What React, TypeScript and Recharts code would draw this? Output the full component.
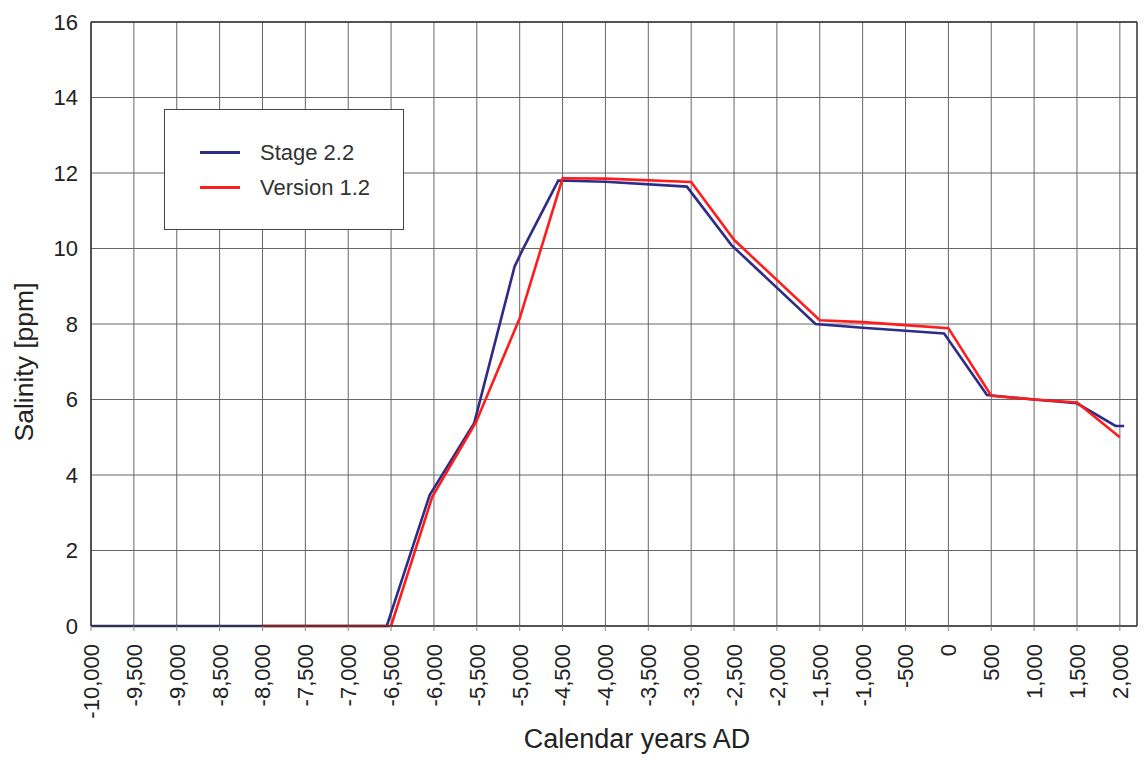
import { CartesianGrid, Legend, Line, LineChart, ReferenceLine, XAxis, YAxis } from "recharts";

// years AD / salinity ppm
const stageYears = [-10000, -6550, -6050, -5530, -5060, -4970, -4550, -4000, -3050, -2530, -1550, -1000, -500, -50, 450, 1000, 1500, 1950, 2050];
const stageSalinity = [0, 0, 3.47, 5.38, 9.52, 9.95, 11.8, 11.77, 11.64, 10.09, 8.0, 7.9, 7.82, 7.75, 6.12, 6.0, 5.9, 5.3, 5.3];

const versionYears = [-8000, -6500, -6020, -5510, -5000, -4500, -4000, -3000, -2500, -1500, -1000, -500, 0, 500, 1000, 1500, 2000];
const versionSalinity = [0, 0, 3.42, 5.4, 8.15, 11.86, 11.85, 11.76, 10.23, 8.1, 8.05, 7.97, 7.89, 6.1, 6.0, 5.92, 5.0];

const xTicks = [-10000, -9500, -9000, -8500, -8000, -7500, -7000, -6500, -6000, -5500, -5000, -4500, -4000, -3500, -3000, -2500, -2000, -1500, -1000, -500, 0, 500, 1000, 1500, 2000];
const yTicks = [0, 2, 4, 6, 8, 10, 12, 14, 16];

const stageData = stageYears.map((x, i) => ({ x, y: stageSalinity[i] }));
const versionData = versionYears.map((x, i) => ({ x, y: versionSalinity[i] }));

const FONT = "'Liberation Sans', Arial, sans-serif";
const BLUE = "#2d2c87";
const RED = "#ff1c1c";

const fmt = (v: number) => (v === 0 ? "0" : v.toLocaleString("en-US"));

const XTick = (props: any) => {
  const { x, y, payload } = props;
  return (
    <text
      transform={`translate(${x},${y + 11}) rotate(-90)`}
      textAnchor="end"
      dy="0.36em"
      fontSize={22}
      fontFamily={FONT}
      fill="#222"
    >
      {fmt(payload.value)}
    </text>
  );
};

const LegendBox = () => (
  <div
    style={{
      width: 240,
      height: 121,
      border: "1.5px solid #444",
      background: "#fff",
      fontFamily: FONT,
      fontSize: 22,
      color: "#333",
      boxSizing: "border-box",
      paddingTop: 25,
    }}
  >
    {[
      { name: "Stage 2.2", color: BLUE },
      { name: "Version 1.2", color: RED },
    ].map((it) => (
      <div key={it.name} style={{ display: "flex", alignItems: "center", height: 35 }}>
        <div style={{ width: 40, height: 3, background: it.color, marginLeft: 35, marginRight: 20 }} />
        <span>{it.name}</span>
      </div>
    ))}
  </div>
);

export default function App() {
  return (
    <div style={{ position: "absolute", left: 0, top: 0, background: "#fff" }}>
      <LineChart width={1144} height={766} margin={{ top: 22, right: 7, left: 0, bottom: 0 }}>
        <CartesianGrid stroke="#666" strokeWidth={1} horizontalValues={yTicks} verticalValues={xTicks} />
        <XAxis
          type="number"
          dataKey="x"
          domain={[-10000, 2200]}
          ticks={xTicks}
          interval={0}
          height={140}
          tick={<XTick />}
          tickSize={5}
          tickLine={{ stroke: "#888" }}
          axisLine={{ stroke: "#333", strokeWidth: 1.5 }}
          allowDataOverflow
          label={{
            content: () => (
              <text x={637} y={748} textAnchor="middle" fontSize={27} fontFamily={FONT} fill="#222">
                Calendar years AD
              </text>
            ),
          }}
        />
        <YAxis
          type="number"
          domain={[0, 16]}
          ticks={yTicks}
          interval={0}
          width={91}
          tickSize={0}
          tickMargin={13}
          tick={{ fontSize: 22, fontFamily: FONT, fill: "#222" }}
          axisLine={{ stroke: "#333", strokeWidth: 1.5 }}
          label={{
            content: () => (
              <text
                transform="translate(33,362) rotate(-90)"
                textAnchor="middle"
                fontSize={26.5}
                fontFamily={FONT}
                fill="#222"
              >
                Salinity [ppm]
              </text>
            ),
          }}
        />
        <ReferenceLine x={2200} stroke="#333" strokeWidth={1.5} />
        <ReferenceLine y={16} stroke="#333" strokeWidth={1.5} />
        <Legend
          layout="vertical"
          align="center"
          verticalAlign="middle"
          content={<LegendBox />}
          wrapperStyle={{ position: "absolute", left: 164, top: 109, width: 240, height: 121 }}
        />
        <Line
          data={stageData}
          dataKey="y"
          name="Stage 2.2"
          stroke={BLUE}
          strokeWidth={2.6}
          dot={false}
          isAnimationActive={false}
        />
        <Line
          data={versionData}
          dataKey="y"
          name="Version 1.2"
          stroke={RED}
          strokeWidth={2.6}
          dot={false}
          isAnimationActive={false}
        />
      </LineChart>
    </div>
  );
}
